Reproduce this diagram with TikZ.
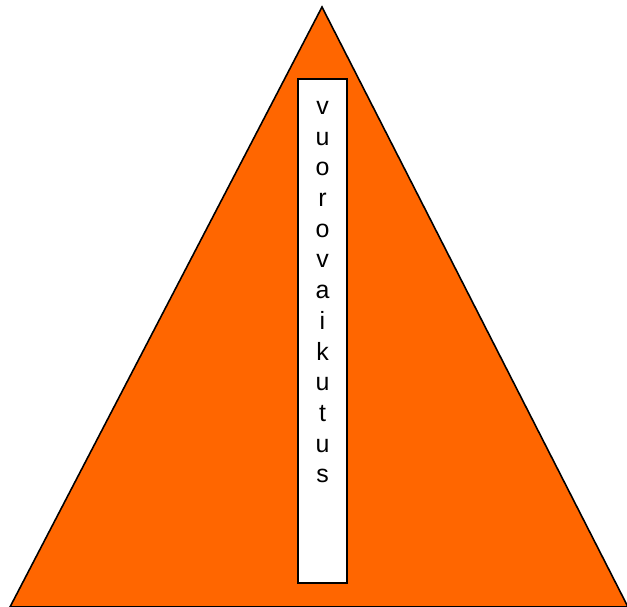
\documentclass[tikz,border=0pt]{standalone}
\usepackage{fontspec}
\setmainfont{Liberation Sans}
\definecolor{kolmio}{HTML}{FF6600}
\tikzset{
  pala/.style={draw=black, line width=0.9pt, fill=kolmio, line join=miter},
  laatikko/.style={draw=black, line width=0.9pt, fill=white, inner sep=0pt},
  kirjain/.style={font=\fontsize{14.2}{16}\selectfont, inner sep=0pt, anchor=base}
}
\begin{document}
\begin{tikzpicture}[x=0.02cm, y=-0.02cm]
    \useasboundingbox (0,0) rectangle (627,607);
    % ── kolmio ──────────────────────────────────────
    \coordinate (huippu) at (322,7);
    \coordinate (vasen) at (10,607);
    \coordinate (oikea) at (628,607);
    \draw[pala] (vasen) -- (huippu) -- (oikea) -- cycle;
    % pystylaatikko
    \node[laatikko, minimum width=49*0.02cm, minimum height=504*0.02cm] (sana) at (322.5,331) {};
    % kirjaimet allekkain
    \foreach \k [count=\i] in {v,u,o,r,o,v,a,i,k,u,t,u,s} {
        \node[kirjain] (k\i) at (322.5,{114.5+(\i-1)*30.7}) {\k};
    }
\end{tikzpicture}
\end{document}
